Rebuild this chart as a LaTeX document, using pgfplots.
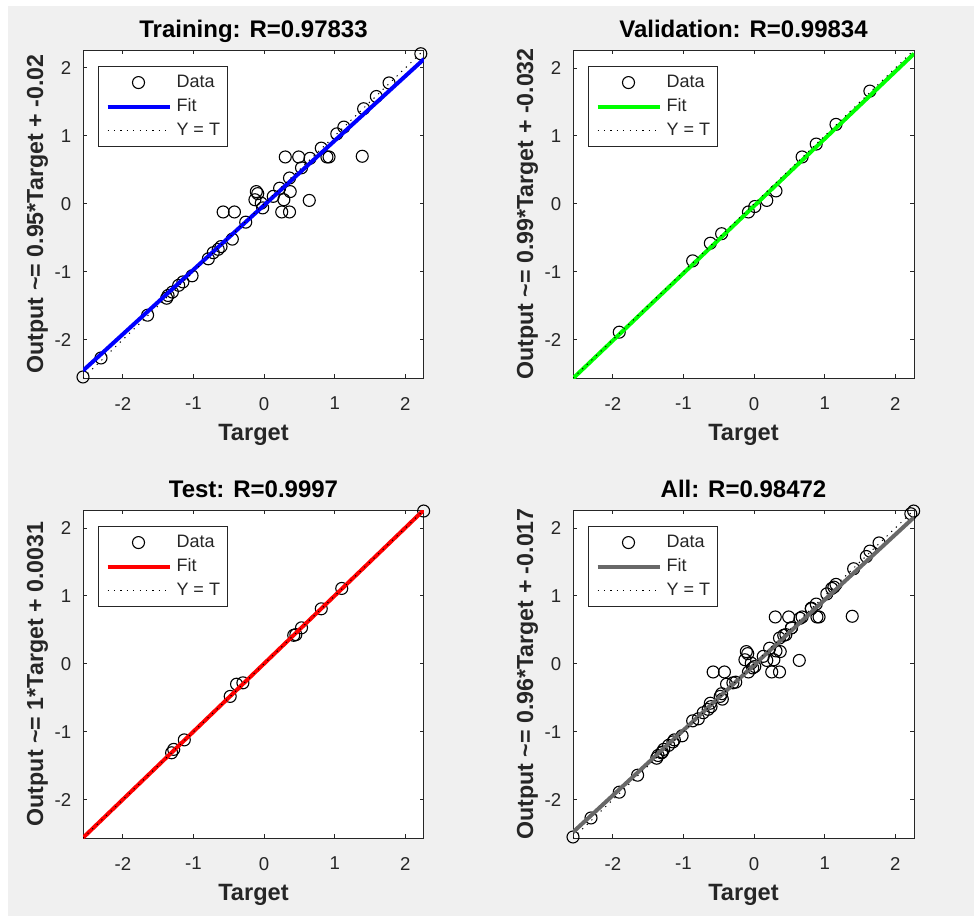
\documentclass[border=0pt]{standalone}
\usepackage{pgfplots}
\pgfplotsset{compat=1.18}
\usepackage{pgfplotstable}
\usepackage{fontspec}
\setmainfont{Liberation Sans}

\definecolor{bggray}{HTML}{F0F0F0}
\definecolor{axgray}{HTML}{262626}
\definecolor{fitblue}{rgb}{0,0,1}
\definecolor{fitgreen}{rgb}{0,1,0}
\definecolor{fitred}{rgb}{1,0,0}
\definecolor{fitgray}{HTML}{686868}

\pgfplotstableread{
x y
2.22 2.21
1.77 1.78
1.59 1.58
1.41 1.40
1.39 0.70
1.13 1.13
1.03 1.03
0.81 0.82
0.89 0.69
0.92 0.69
0.30 0.69
0.49 0.69
0.65 0.67
0.53 0.53
0.36 0.38
0.22 0.23
0.37 0.18
0.28 0.06
0.64 0.05
0.25 -0.12
0.36 -0.12
-0.11 0.18
-0.09 0.15
-0.13 0.06
-0.04 0.01
-0.02 -0.06
0.13 0.11
-0.58 -0.12
-0.42 -0.12
-0.26 -0.27
-0.45 -0.52
-0.61 -0.63
-0.65 -0.67
-0.72 -0.72
-0.79 -0.81
-1.02 -1.06
-1.15 -1.15
-1.21 -1.20
-1.30 -1.30
-1.36 -1.35
-1.38 -1.39
-1.65 -1.64
-2.31 -2.27
-2.565 -2.55
}\trainData

\pgfplotstableread{
x y
-1.91 -1.89
-0.87 -0.84
-0.62 -0.58
-0.46 -0.44
-0.08 -0.12
0.01 -0.04
0.18 0.05
0.31 0.19
0.68 0.69
0.88 0.88
1.16 1.17
1.64 1.66
}\valData

\pgfplotstableread{
x y
2.26 2.25
1.10 1.11
0.81 0.81
0.53 0.53
0.45 0.43
0.42 0.42
-0.30 -0.28
-0.39 -0.30
-0.48 -0.48
-1.13 -1.12
-1.28 -1.26
-1.31 -1.31
}\testData

\pgfplotsset{
  reg/.style={
    scale only axis, width=170.5pt, height=164pt,
    anchor=north west,
    xmin=-2.565, xmax=2.265, ymin=-2.565, ymax=2.265,
    xtick={-2,-1,0,1,2}, ytick={-2,-1,0,1,2},
    tick align=inside, major tick length=1.8pt,
    clip mode=individual,
    axis background/.style={fill=white},
    axis line style={draw=axgray, line width=0.5pt},
    every tick/.style={draw=axgray, line width=0.5pt},
    tick label style={font=\fontsize{9.3}{11}\selectfont, text=axgray},
    /pgf/number format/assume math mode=true,
    xticklabel style={yshift=-6pt},
    yticklabel style={xshift=-2.4pt},
    title style={at={(axis description cs:0.5,1.003)}, anchor=base,
      font=\bfseries\fontsize{12}{14}\selectfont, text=black},
    xlabel style={at={(axis description cs:0.5,-0.192)}, anchor=base,
      font=\bfseries\fontsize{11.8}{14}\selectfont, text=axgray},
    ylabel style={at={(axis description cs:-0.117,0.5)}, anchor=base,
      font=\bfseries\fontsize{11.6}{14}\selectfont, text=axgray},
    xlabel={Target},
    legend style={at={(axis description cs:0.044,0.951)}, anchor=north west,
      draw=axgray, line width=0.5pt, fill=white,
      font=\fontsize{9}{10}\selectfont, text=axgray,
      inner xsep=3.5pt, inner ysep=4pt, row sep=4pt, column sep=2.5pt,
      nodes={inner sep=0pt, text height=6.5pt, text depth=1.5pt}},
    legend cell align=left,
  },
  datastyle/.style={only marks, mark=o, mark size=3pt, draw=black,
    mark options={line width=0.55pt, draw=black},
    legend image code/.code={\draw[##1] plot coordinates {(15.5pt,0pt)};}},
  fitstyle/.style={no marks, line width=2pt, draw=#1,
    legend image code/.code={\draw[##1] (0pt,0pt) -- (31pt,0pt);}},
  ytstyle/.style={no marks, line width=0.5pt, draw=black, dash pattern=on 0.6pt off 2.6pt,
    legend image code/.code={\draw[##1] (0pt,0pt) -- (31pt,0pt);}},
}

\begin{document}
\begin{tikzpicture}[x=1pt,y=1pt]
\fill[white] (0,0) rectangle (487,-458);
\fill[bggray] (4,-3) rectangle (487,-458);

% Training
\begin{axis}[reg, at={(41.5pt,-25pt)},
  title={Training: R=0.97833},
  ylabel={Output \textasciitilde= 0.95*Target + -0.02}]
\addplot[datastyle] table {\trainData};
\addplot[fitstyle=fitblue] coordinates {(-2.565,-2.45675) (2.265,2.13175)};
\addplot[ytstyle] coordinates {(-2.565,-2.565) (2.265,2.265)};
\legend{Data,Fit,Y = T}
\end{axis}

% Validation
\begin{axis}[reg, at={(286.5pt,-25pt)},
  title={Validation: R=0.99834},
  ylabel={Output \textasciitilde= 0.99*Target + -0.032}]
\addplot[datastyle] table {\valData};
\addplot[fitstyle=fitgreen] coordinates {(-2.565,-2.57135) (2.265,2.21035)};
\addplot[ytstyle] coordinates {(-2.565,-2.565) (2.265,2.265)};
\legend{Data,Fit,Y = T}
\end{axis}

% Test
\begin{axis}[reg, at={(41.5pt,-255pt)},
  title={Test: R=0.9997},
  ylabel={Output \textasciitilde= 1*Target + 0.0031}]
\addplot[datastyle] table {\testData};
\addplot[fitstyle=fitred] coordinates {(-2.565,-2.5619) (2.265,2.2681)};
\addplot[ytstyle] coordinates {(-2.565,-2.565) (2.265,2.265)};
\legend{Data,Fit,Y = T}
\end{axis}

% All
\begin{axis}[reg, at={(286.5pt,-255pt)},
  title={All: R=0.98472},
  ylabel={Output \textasciitilde= 0.96*Target + -0.017}]
\addplot[datastyle] table {\trainData};
\addplot[datastyle, forget plot] table {\valData};
\addplot[datastyle, forget plot] table {\testData};
\addplot[fitstyle=fitgray] coordinates {(-2.565,-2.4794) (2.265,2.1574)};
\addplot[ytstyle] coordinates {(-2.565,-2.565) (2.265,2.265)};
\legend{Data,Fit,Y = T}
\end{axis}

\pgfresetboundingbox
\useasboundingbox (0,0) rectangle (487,-458);
\end{tikzpicture}
\end{document}
